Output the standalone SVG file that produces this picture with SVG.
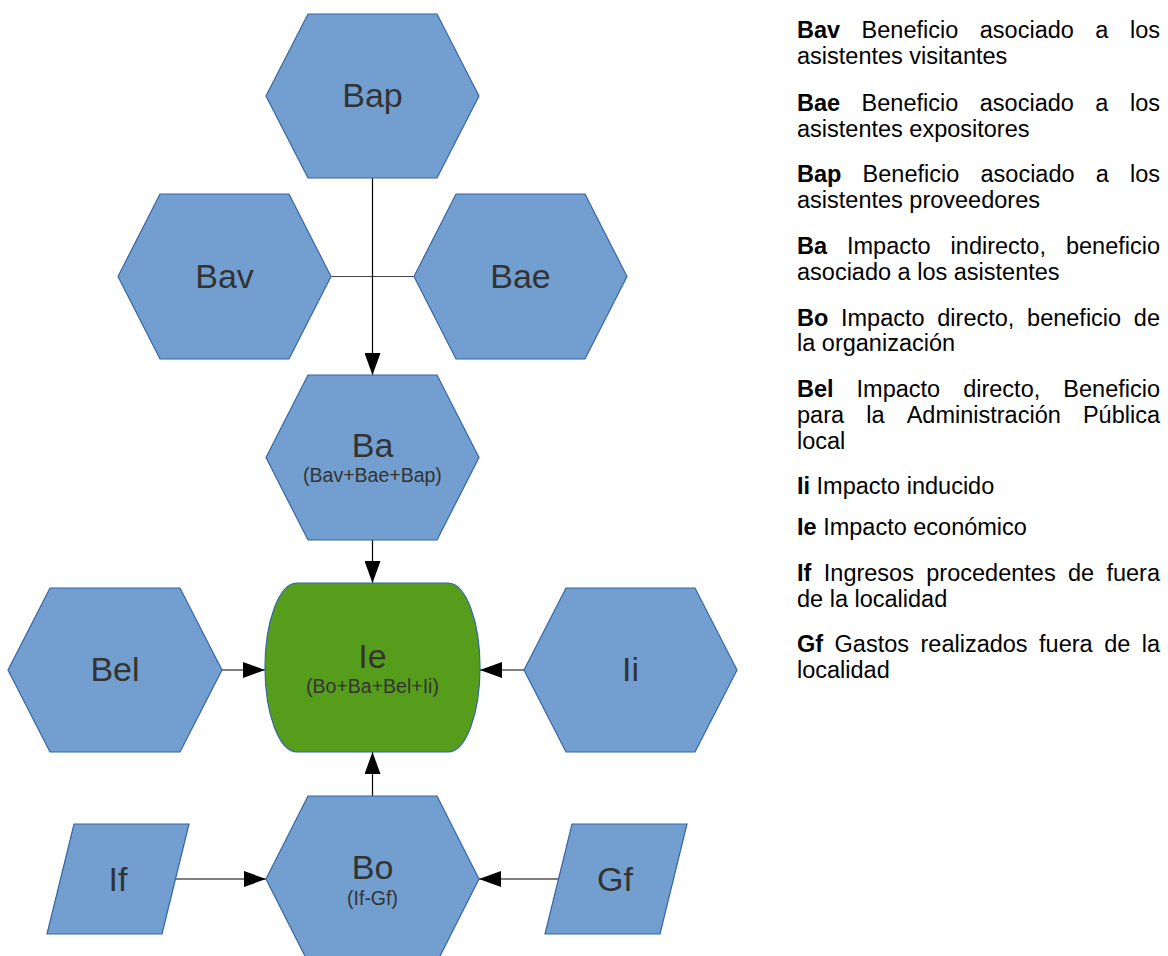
<svg xmlns="http://www.w3.org/2000/svg" width="1168" height="956" viewBox="0 0 1168 956">
  <style>
    .shape { fill: #729fcf; stroke: #3465a4; stroke-width: 1.2; }
    .total { fill: #579d1c; stroke: #3465a4; stroke-width: 1.2; }
    .lbl { font-family: "Liberation Sans", Arial, sans-serif; font-size: 34px; fill: #333333; text-anchor: middle; }
    .sub { font-family: "Liberation Sans", Arial, sans-serif; font-size: 19.5px; fill: #333333; text-anchor: middle; }
    .wire { stroke: #000000; stroke-width: 1.2; fill: none; }
    .join { stroke: #444444; stroke-width: 1.2; fill: none; }
    .arrow { marker-end: url(#head); }
    .leg { font-family: "Liberation Sans", Arial, sans-serif; font-size: 23.5px; fill: #000000; }
    .leg .k { font-weight: bold; }
    .end { text-anchor: end; }
  </style>
  <defs>
    <marker id="head" viewBox="0 0 22 16" refX="22" refY="8" markerWidth="22" markerHeight="16" markerUnits="userSpaceOnUse" orient="auto">
      <path d="M0,0 L22,8 L0,16 Z" fill="#000000"/>
    </marker>
  </defs>

  <rect width="1168" height="956" fill="#ffffff"/>

  <!-- connectors -->
  <g id="connectors">
    <line class="join" x1="331" y1="276.5" x2="414" y2="276.5"/>
    <line class="wire arrow" x1="372.5" y1="178" x2="372.5" y2="375"/>
    <line class="wire arrow" x1="372.5" y1="540" x2="372.5" y2="583"/>
    <line class="wire arrow" x1="222" y1="670" x2="265" y2="670"/>
    <line class="wire arrow" x1="524" y1="670" x2="480" y2="670"/>
    <line class="wire arrow" x1="372.5" y1="796" x2="372.5" y2="752"/>
    <line class="wire arrow" x1="176" y1="879" x2="266" y2="879"/>
    <line class="wire arrow" x1="559" y1="879" x2="479" y2="879"/>
  </g>

  <!-- nodes -->
  <g id="node-bap">
    <polygon class="shape" points="308,14 437,14 479,96 437,178 308,178 266,96"/>
    <text class="lbl" x="372.5" y="107">Bap</text>
  </g>
  <g id="node-bav">
    <polygon class="shape" points="160,194 289,194 331,276.5 289,359 160,359 118,276.5"/>
    <text class="lbl" x="224.5" y="288">Bav</text>
  </g>
  <g id="node-bae">
    <polygon class="shape" points="456,194 585,194 627,276.5 585,359 456,359 414,276.5"/>
    <text class="lbl" x="520.5" y="288">Bae</text>
  </g>
  <g id="node-ba">
    <polygon class="shape" points="308,375 437,375 479,457.5 437,540 308,540 266,457.5"/>
    <text class="lbl" x="372.5" y="457">Ba</text>
    <text class="sub" x="372.5" y="482">(Bav+Bae+Bap)</text>
  </g>
  <g id="node-ie">
    <path class="total" d="M297,583 H448 A32,84.5 0 0 1 448,752 H297 A32,84.5 0 0 1 297,583 Z"/>
    <text class="lbl" x="372.5" y="668">Ie</text>
    <text class="sub" x="372.5" y="693">(Bo+Ba+Bel+Ii)</text>
  </g>
  <g id="node-bel">
    <polygon class="shape" points="50,588 180,588 222,670 180,752 50,752 8,670"/>
    <text class="lbl" x="115" y="681">Bel</text>
  </g>
  <g id="node-ii">
    <polygon class="shape" points="566,588 695,588 737,670 695,752 566,752 524,670"/>
    <text class="lbl" x="630.5" y="681">Ii</text>
  </g>
  <g id="node-bo">
    <polygon class="shape" points="308,796 437,796 479,879 437,962 308,962 266,879"/>
    <text class="lbl" x="372.5" y="879">Bo</text>
    <text class="sub" x="372.5" y="905">(If-Gf)</text>
  </g>
  <g id="node-if">
    <polygon class="shape" points="74,824 189,824 162,934 47,934"/>
    <text class="lbl" x="118" y="891">If</text>
  </g>
  <g id="node-gf">
    <polygon class="shape" points="572,824 687,824 660,934 545,934"/>
    <text class="lbl" x="615" y="891">Gf</text>
  </g>

  <!-- legend (justified lines are laid out word by word) -->
  <g id="legend" class="leg">
    <text x="797" y="38"><tspan class="k">Bav</tspan></text>
    <text x="861.6" y="38">Beneficio</text>
    <text x="979.8" y="38">asociado</text>
    <text x="1095.3" y="38">a</text>
    <text class="end" x="1160" y="38">los</text>
    <text x="797" y="64">asistentes visitantes</text>

    <text x="797" y="111"><tspan class="k">Bae</tspan></text>
    <text x="861.6" y="111">Beneficio</text>
    <text x="979.8" y="111">asociado</text>
    <text x="1095.3" y="111">a</text>
    <text class="end" x="1160" y="111">los</text>
    <text x="797" y="137">asistentes expositores</text>

    <text x="797" y="182"><tspan class="k">Bap</tspan></text>
    <text x="862.6" y="182">Beneficio</text>
    <text x="980.5" y="182">asociado</text>
    <text x="1095.7" y="182">a</text>
    <text class="end" x="1160" y="182">los</text>
    <text x="797" y="208">asistentes proveedores</text>

    <text x="797" y="254"><tspan class="k">Ba</tspan></text>
    <text x="847" y="254">Impacto</text>
    <text x="950.6" y="254">indirecto,</text>
    <text class="end" x="1160" y="254">beneficio</text>
    <text x="797" y="280">asociado a los asistentes</text>

    <text x="797" y="326"><tspan class="k">Bo</tspan></text>
    <text x="841" y="326">Impacto</text>
    <text x="937.3" y="326">directo,</text>
    <text x="1027.1" y="326">beneficio</text>
    <text class="end" x="1160" y="326">de</text>
    <text x="797" y="351">la organización</text>

    <text x="797" y="397"><tspan class="k">Bel</tspan></text>
    <text x="856.6" y="397">Impacto</text>
    <text x="963.2" y="397">directo,</text>
    <text class="end" x="1160" y="397">Beneficio</text>
    <text x="797" y="423">para</text>
    <text x="866.2" y="423">la</text>
    <text x="906.7" y="423">Administración</text>
    <text class="end" x="1160" y="423">Pública</text>
    <text x="797" y="449">local</text>

    <text x="797" y="494"><tspan class="k">Ii</tspan> Impacto inducido</text>

    <text x="797" y="535"><tspan class="k">Ie</tspan> Impacto económico</text>

    <text x="797" y="581"><tspan class="k">If</tspan></text>
    <text x="823.8" y="581">Ingresos</text>
    <text x="926.3" y="581">procedentes</text>
    <text x="1068" y="581">de</text>
    <text class="end" x="1160" y="581">fuera</text>
    <text x="797" y="607">de la localidad</text>

    <text x="797" y="652"><tspan class="k">Gf</tspan></text>
    <text x="834.6" y="652">Gastos</text>
    <text x="920.5" y="652">realizados</text>
    <text x="1039.1" y="652">fuera</text>
    <text x="1104.2" y="652">de</text>
    <text class="end" x="1160" y="652">la</text>
    <text x="797" y="678">localidad</text>
  </g>
</svg>
